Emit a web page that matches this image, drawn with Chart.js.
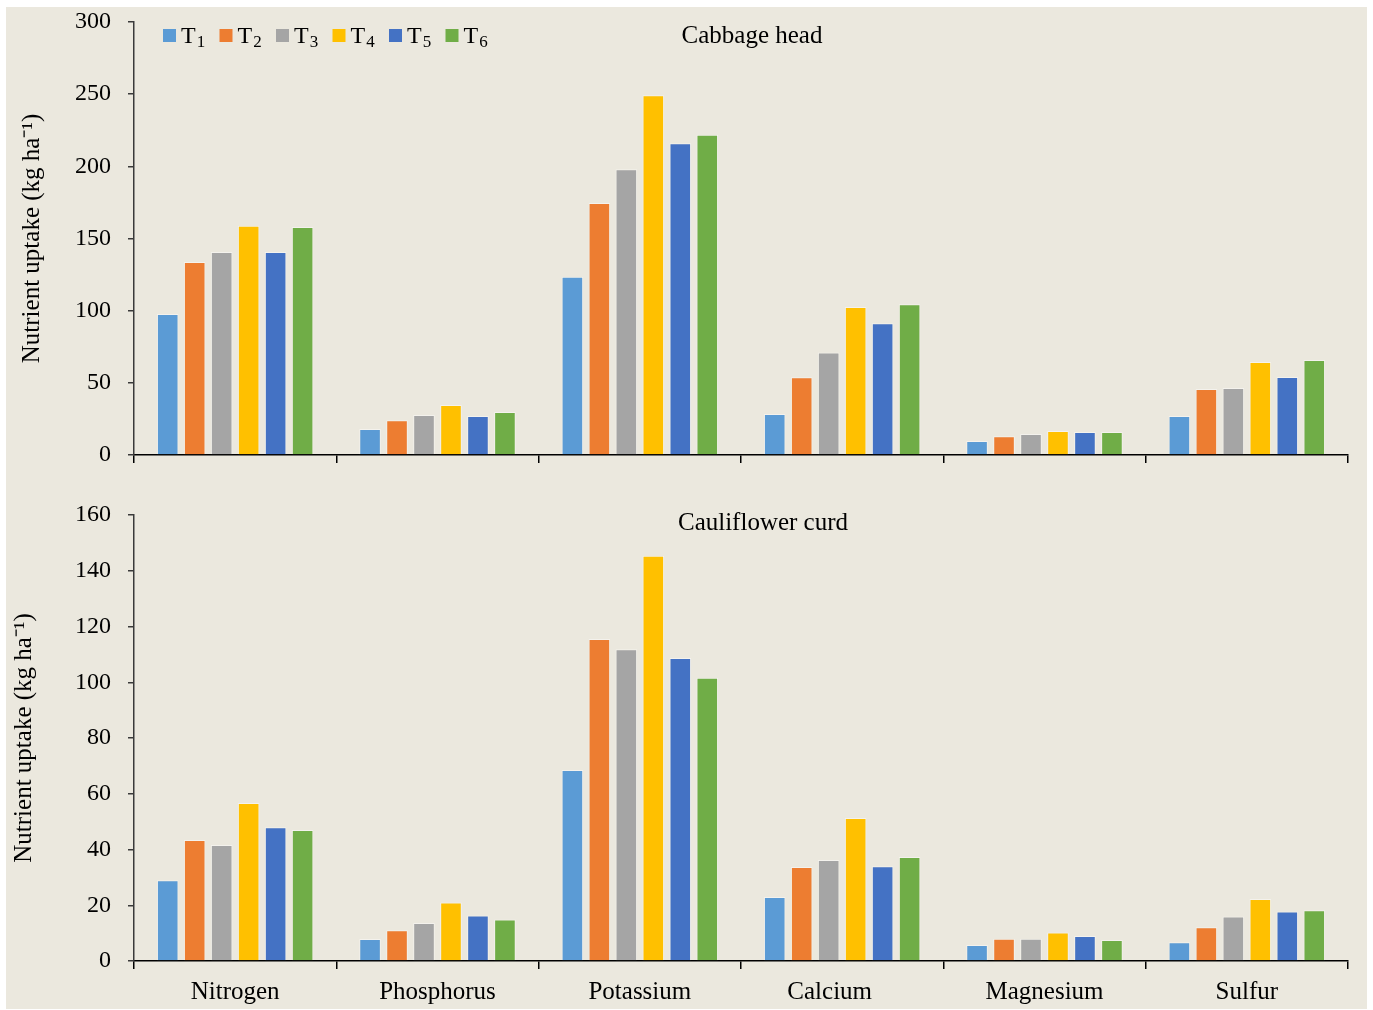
<!DOCTYPE html>
<html>
<head>
<meta charset="utf-8">
<title>Nutrient uptake - cabbage head and cauliflower curd</title>
<script src="https://cdn.jsdelivr.net/npm/chart.js@4.4.1/dist/chart.umd.min.js"></script>
<style>
  html, body { margin: 0; padding: 0; background: #ffffff; }
  #panel {
    position: absolute; left: 6px; top: 7px;
    width: 1361px; height: 1002px;
    background: #EBE8DE;
  }
  .box { position: absolute; left: 0; width: 1361px; }
  #topBox { top: 0; height: 478px; }
  #bottomBox { top: 478px; height: 524px; }
</style>
</head>
<body>
<div id="panel">
  <div class="box" id="topBox"><canvas id="cabbageChart"></canvas></div>
  <div class="box" id="bottomBox"><canvas id="cauliflowerChart"></canvas></div>
</div>

<script>
// --- Data ---
// (the source label for calcium carries trailing blanks, which shifts it left)
const nutrients = ['Nitrogen', 'Phosphorus', 'Potassium', 'Calcium    ', 'Magnesium', 'Sulfur'];
const treatments = ['T₁', 'T₂', 'T₃', 'T₄', 'T₅', 'T₆'];
const treatmentColors = ['#5B9BD5', '#ED7D31', '#A5A5A5', '#FFC000', '#4472C4', '#70AD47'];

// Cabbage head uptake (kg ha-1), one array per treatment, ordered as nutrients
const cabbageT1 = [97.7, 18.0, 123.5, 28.4, 9.7, 27.0];
const cabbageT2 = [133.7, 24.0, 174.6, 53.8, 13.0, 45.7];
const cabbageT3 = [140.7, 27.7, 198.0, 71.1, 14.5, 46.4];
const cabbageT4 = [158.9, 34.6, 249.2, 102.6, 16.6, 64.4];
const cabbageT5 = [140.7, 27.0, 216.0, 91.3, 16.0, 54.0];
const cabbageT6 = [158.0, 29.8, 221.8, 104.4, 16.0, 65.8];

// Cauliflower curd uptake (kg ha-1)
const caulifT1 = [29.0, 7.9, 68.5, 23.0, 5.7, 6.7];
const caulifT2 = [43.4, 11.0, 115.5, 33.7, 8.0, 12.1];
const caulifT3 = [41.6, 13.6, 111.8, 36.2, 8.0, 16.0];
const caulifT4 = [56.7, 21.0, 145.4, 51.3, 10.2, 22.2];
const caulifT5 = [48.0, 16.3, 108.7, 34.0, 9.0, 17.8];
const caulifT6 = [47.0, 14.9, 101.6, 37.3, 7.5, 18.2];

// Y axis ranges / tick steps
const cabbageYMax = 300, cabbageYStep = 50;
const caulifYMax = 160, caulifYStep = 20;

const yTitle = 'Nutrient uptake (kg ha⁻¹)';

// --- Shared styling ---
const SERIF = "'Liberation Serif', 'Times New Roman', serif";
Chart.defaults.font.family = SERIF;
Chart.defaults.color = '#000';
Chart.defaults.animation = false;

// Panel title drawn inside the plot area
const panelTitlePlugin = {
    id: 'panelTitle',
    afterDraw(chart, args, opts) {
        if (!opts || !opts.text) return;
        const { ctx, chartArea } = chart;
        ctx.save();
        ctx.font = `25px ${SERIF}`;
        ctx.fillStyle = '#000';
        ctx.textAlign = 'center';
        ctx.textBaseline = 'alphabetic';
        const cx = (chartArea.left + chartArea.right) / 2 + opts.dx;
        ctx.fillText(opts.text, cx, chartArea.top + opts.dy);
        ctx.restore();
    }
};

// Compact legend in the top-left corner of the plot (Excel look)
// label 'T₁' is drawn as a big T plus a lowered, smaller digit
const innerLegendPlugin = {
    id: 'innerLegend',
    afterDraw(chart, args, opts) {
        if (!opts || !opts.show) return;
        const { ctx, chartArea } = chart;
        ctx.save();
        ctx.textAlign = 'left';
        ctx.textBaseline = 'alphabetic';
        let x = chartArea.left + 29;
        const y = chartArea.top + 7;
        chart.data.datasets.forEach(ds => {
            ctx.fillStyle = ds.backgroundColor;
            ctx.fillRect(x, y, 13, 13);
            ctx.fillStyle = '#000';
            const main = ds.label.charAt(0);
            const sub = ds.label.slice(1).split('')
                .map(c => String(c.charCodeAt(0) - 0x2080)).join('');
            ctx.font = `24px ${SERIF}`;
            ctx.fillText(main, x + 18, y + 14);
            const w = ctx.measureText(main).width;
            ctx.font = `17px ${SERIF}`;
            ctx.fillText(sub, x + 18 + w + 1, y + 18);
            x += 56.5;
        });
        ctx.restore();
    }
};

function buildDatasets(seriesList) {
    return seriesList.map((values, i) => ({
        label: treatments[i],
        data: values,
        backgroundColor: treatmentColors[i],
        borderColor: 'rgba(255,255,255,0.45)',
        borderWidth: 1,
        categoryPercentage: 0.8,
        barPercentage: 0.8
    }));
}

function makeChart(canvasId, cfg) {
    const ctx = document.getElementById(canvasId).getContext('2d');
    return new Chart(ctx, {
        type: 'bar',
        data: { labels: nutrients, datasets: buildDatasets(cfg.series) },
        options: {
            responsive: true,
            maintainAspectRatio: false,
            layout: { padding: { left: 0, right: 19, top: cfg.padTop, bottom: 0 } },
            plugins: {
                legend: { display: false },
                tooltip: { enabled: false },
                panelTitle: cfg.title,
                innerLegend: { show: cfg.legend }
            },
            scales: {
                x: {
                    grid: {
                        offset: true,
                        drawOnChartArea: false,
                        drawTicks: true,
                        tickLength: 8,
                        color: '#000',
                        lineWidth: 1.5
                    },
                    border: { color: '#000', width: 1.5 },
                    ticks: {
                        display: cfg.showCategories,
                        font: { size: 25 },
                        color: '#000',
                        padding: 8,
                        maxRotation: 0,
                        autoSkip: false
                    },
                    afterFit: scale => {
                        scale.height = cfg.xHeight;
                        scale.paddingLeft = 0;
                        scale.paddingRight = 0;
                    }
                },
                y: {
                    min: 0,
                    max: cfg.yMax,
                    grid: {
                        drawOnChartArea: false,
                        drawTicks: true,
                        tickLength: 6,
                        color: '#3a3a3a',
                        lineWidth: 1.5
                    },
                    border: { color: '#3a3a3a', width: 1.5 },
                    ticks: {
                        stepSize: cfg.yStep,
                        font: { size: 24 },
                        color: '#000',
                        padding: 17
                    },
                    title: {
                        display: true,
                        text: yTitle,
                        font: { size: 25 },
                        color: '#000',
                        padding: { top: cfg.titlePad, bottom: 0 }
                    },
                    afterFit: scale => {
                        scale.width = 128;
                        // keep label overhang from pushing the plot area
                        scale.paddingTop = 0;
                        scale.paddingBottom = 0;
                    }
                }
            }
        },
        plugins: [panelTitlePlugin, innerLegendPlugin]
    });
}

document.addEventListener('DOMContentLoaded', () => {
    makeChart('cabbageChart', {
        series: [cabbageT1, cabbageT2, cabbageT3, cabbageT4, cabbageT5, cabbageT6],
        yMax: cabbageYMax,
        yStep: cabbageYStep,
        padTop: 15,
        xHeight: 30,
        showCategories: false,
        legend: true,
        titlePad: 11,
        title: { text: 'Cabbage head', dx: 11, dy: 21 }
    });

    makeChart('cauliflowerChart', {
        series: [caulifT1, caulifT2, caulifT3, caulifT4, caulifT5, caulifT6],
        yMax: caulifYMax,
        yStep: caulifYStep,
        padTop: 30,
        xHeight: 48,
        showCategories: true,
        legend: false,
        titlePad: 3,
        title: { text: 'Cauliflower curd', dx: 22, dy: 15 }
    });
});
</script>
</body>
</html>
